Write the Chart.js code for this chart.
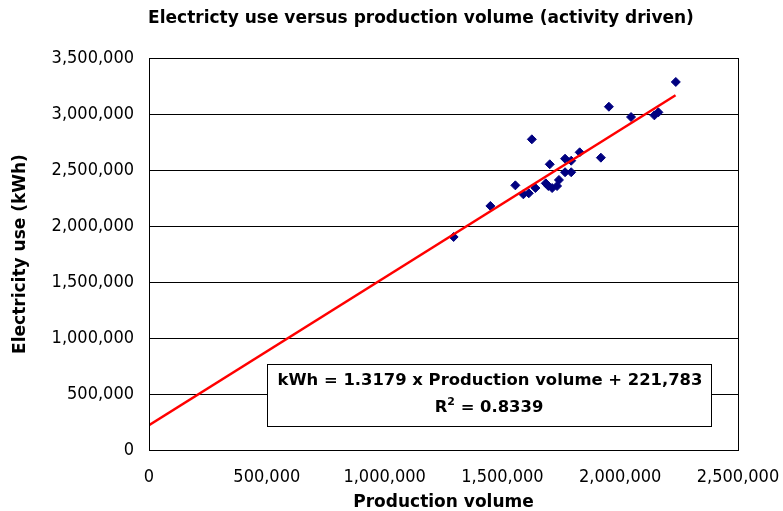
<!DOCTYPE html>
<html>
<head>
<meta charset="utf-8">
<script src="https://cdn.jsdelivr.net/npm/chart.js@4.4.0/dist/chart.umd.min.js"></script>
<style>
  html, body { margin: 0; padding: 0; background: #fff; }
</style>
</head>
<body>
<canvas id="scatterChart" width="783" height="511"></canvas>
<script>
// 데이터
const productionVolume = [1293000, 1449000, 1555000, 1589000, 1612000, 1640000, 1684000, 1695000, 1711000,
                          1732000, 1740000, 1701000, 1625000, 1766000, 1792000, 1766000, 1792000, 1828000,
                          1918000, 1952000, 2046000, 2145000, 2162000, 2236000];
const electricityUse   = [1902000, 2179000, 2363000, 2283000, 2292000, 2339000, 2381000, 2357000, 2339000,
                          2357000, 2411000, 2551000, 2774000, 2480000, 2480000, 2601000, 2583000, 2658000,
                          2610000, 3065000, 2973000, 2988000, 3015000, 3286000];
const trendSlope = 1.3179;
const trendIntercept = 221783;
const trendRange = [0, 2235000];
const xTickValues = [0, 500000, 1000000, 1500000, 2000000, 2500000];
const yTickValues = [0, 500000, 1000000, 1500000, 2000000, 2500000, 3000000, 3500000];

const chartTitle = 'Electricty use versus production volume (activity driven)';
const xTitle = 'Production volume';
const yTitle = 'Electricity use (kWh)';
const equationText = 'kWh = 1.3179 x Production volume + 221,783';
const r2Value = '0.8339';

const TICK_FONT = '"DejaVu Sans Condensed", "DejaVu Sans", sans-serif';
const BOLD_FONT = '"DejaVu Sans", Verdana, sans-serif';
Chart.defaults.font.family = TICK_FONT;
Chart.defaults.color = '#000';

const fmt = (v) => Number(v).toLocaleString('en-US');

// 제목 + 테두리 + 수식 박스
const decorPlugin = {
    id: 'decor',
    afterDraw(chart) {
        const ctx = chart.ctx;
        const a = chart.chartArea;
        ctx.save();
        // 플롯 테두리
        ctx.strokeStyle = '#000';
        ctx.lineWidth = 1;
        ctx.strokeRect(Math.round(a.left) + 0.5, Math.round(a.top) + 0.5,
                       Math.round(a.right - a.left), Math.round(a.bottom - a.top));
        // 제목
        ctx.fillStyle = '#000';
        ctx.font = 'bold 17px ' + BOLD_FONT;
        ctx.textAlign = 'center';
        ctx.textBaseline = 'middle';
        ctx.fillText(chartTitle, 421, 19);
        // 수식 박스
        const bx = 267, by = 364, bw = 444, bh = 62;
        ctx.fillStyle = '#fff';
        ctx.fillRect(bx, by, bw, bh);
        ctx.strokeRect(bx + 0.5, by + 0.5, bw, bh);
        ctx.fillStyle = '#000';
        ctx.font = 'bold 16.4px ' + BOLD_FONT;
        ctx.fillText(equationText, bx + bw / 2 + 1, 381);
        const p1 = 'R', p2 = ' = ' + r2Value;
        const w1 = ctx.measureText(p1).width;
        const w2 = ctx.measureText(p2).width;
        ctx.font = 'bold 11px ' + BOLD_FONT;
        const ws = ctx.measureText('2').width;
        const startX = bx + bw / 2 - (w1 + ws + w2) / 2;
        ctx.textAlign = 'left';
        ctx.font = 'bold 16.4px ' + BOLD_FONT;
        ctx.fillText(p1, startX, 408);
        ctx.font = 'bold 11px ' + BOLD_FONT;
        ctx.fillText('2', startX + w1, 402);
        ctx.font = 'bold 16.4px ' + BOLD_FONT;
        ctx.fillText(p2, startX + w1 + ws, 408);
        ctx.restore();
    }
};

const config = {
    type: 'scatter',
    data: {
        datasets: [
            {
                type: 'line',
                label: 'Trend',
                data: trendRange.map(x => ({ x: x, y: trendSlope * x + trendIntercept })),
                borderColor: '#ff0000',
                borderWidth: 2.5,
                pointRadius: 0,
                fill: false,
                tension: 0,
                order: 0
            },
            {
                label: 'Electricity use',
                data: productionVolume.map((x, i) => ({ x: x, y: electricityUse[i] })),
                backgroundColor: '#000080',
                borderColor: '#000080',
                borderWidth: 1,
                pointStyle: 'rectRot',
                pointRadius: 4.5,
                order: 1
            }
        ]
    },
    options: {
        responsive: false,
        animation: false,
        layout: { padding: { top: 58, right: 45, left: 0, bottom: 0 } },
        plugins: {
            legend: { display: false },
            tooltip: { enabled: false }
        },
        scales: {
            x: {
                type: 'linear',
                min: 0,
                max: 2500000,
                afterFit: (scale) => { scale.height = 61; scale.paddingRight = 0; scale.paddingLeft = 0; },
                afterBuildTicks: (scale) => { scale.ticks = xTickValues.map(v => ({ value: v })); },
                ticks: {
                    font: { size: 18 },
                    padding: 17,
                    maxRotation: 0,
                    callback: (v) => fmt(v)
                },
                grid: { display: false, drawTicks: false },
                border: { display: true, color: '#000', width: 1 },
                title: {
                    display: true,
                    text: xTitle,
                    font: { family: BOLD_FONT, size: 17, weight: 'bold', lineHeight: 1.1 },
                    padding: { top: 0, bottom: -1 }
                }
            },
            y: {
                type: 'linear',
                min: 0,
                max: 3500000,
                afterFit: (scale) => { scale.width = 149; },
                afterBuildTicks: (scale) => { scale.ticks = yTickValues.map(v => ({ value: v })); },
                ticks: {
                    font: { size: 18 },
                    padding: 15,
                    callback: (v) => fmt(v)
                },
                grid: { display: true, color: '#000', lineWidth: 1, drawTicks: false },
                border: { display: true, color: '#000', width: 1 },
                title: {
                    display: true,
                    text: yTitle,
                    font: { family: BOLD_FONT, size: 17, weight: 'bold', lineHeight: 1.2 },
                    padding: { top: 10, bottom: 0 }
                }
            }
        }
    },
    plugins: [decorPlugin]
};

let scatterChart = new Chart(document.getElementById('scatterChart'), config);
</script>
</body>
</html>
